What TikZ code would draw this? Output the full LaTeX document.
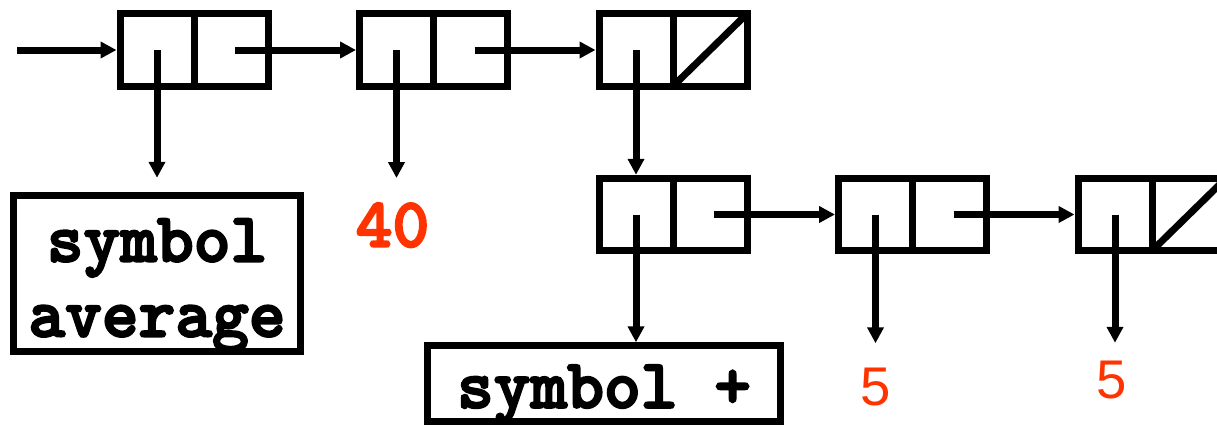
\documentclass[tikz,border=0pt]{standalone}
\usepackage[dvipsnames]{xcolor}
\usepackage{fontspec}
\usepackage{tikz}
\usetikzlibrary{arrows.meta,%
                positioning}
\newfontfamily\numsans{Liberation Sans}
\newfontfamily\courbold[FakeBold=3]{lmmonolt10-bold.otf}
\definecolor{numred}{RGB}{255,51,0}
\newcommand\symfont{\courbold\fontsize{70}{75}\selectfont}

\begin{document}
\begin{tikzpicture}
  \tikzset{CellStyle/.style = {shape          = rectangle,
                               draw,
                               line width     = 7pt,
                               minimum width  = 74pt,
                               minimum height = 72.5pt,
                               inner sep      = 0pt,
                               outer sep      = 0pt}}
  \useasboundingbox (0,0) rectangle (1217pt,-426pt);
    \begin{scope}[ptr/.style={line width=7pt, -{Triangle[width=16pt,length=16pt]}}, symbox/.style={draw, line width=7pt, font=\symfont, inner sep=2pt, outer sep=0pt}, num/.style={text=numred, inner sep=0pt, outer sep=0pt}, node distance=91.5pt]
	%%% LISTE DU HAUT %%%
	\node[CellStyle](car1) at (157pt,-50pt){};
	\node[CellStyle, right=0pt of car1](cdr1){};
	\node[CellStyle, right=of cdr1](car2){};
	\node[CellStyle, right=0pt of car2](cdr2){};
	\node[CellStyle, right=of cdr2](car3){};
	\node[CellStyle, right=0pt of car3](cdr3){};
	\draw[line width=7pt](cdr3.south west) to (cdr3.north east);
	\coordinate(start) at (17pt,-50pt);
	\draw[ptr, shorten >=3.5pt](start) to (car1.west);
	\draw[ptr, shorten >=3.5pt]([xshift=4pt]cdr1.center) to (car2.west);
	\draw[ptr, shorten >=3.5pt]([xshift=4pt]cdr2.center) to (car3.west);
	%%% LISTE DU BAS %%%
	\node[CellStyle, below=92pt of car3](car4){};
	\node[CellStyle, right=0pt of car4](cdr4){};
	\node[CellStyle, right=of cdr4](car5){};
	\node[CellStyle, right=0pt of car5](cdr5){};
	\node[CellStyle, right=of cdr5](car6){};
	\node[CellStyle, right=0pt of car6](cdr6){};
	\draw[line width=7pt](cdr6.south west) to (cdr6.north east);
	\draw[ptr, shorten >=3.5pt](car3.center) to (car4.north);
	\draw[ptr, shorten >=3.5pt]([xshift=4pt]cdr4.center) to (car5.west);
	\draw[ptr, shorten >=3.5pt]([xshift=4pt]cdr5.center) to (car6.west);
	%% VALEURS
	\node[symbox, below=109.5pt of car1, align=center, minimum width=287pt, minimum height=155.5pt, text height=130pt, text depth=4pt](avg){symbol\\average};
	\node[num, font=\symfont, below=116.75pt of car2, xshift=-4pt](forty){40};
	\node[symbox, below=95pt of car4, xshift=-32pt, minimum width=353.5pt, minimum height=76pt, text height=60pt, text depth=12pt](plus){symbol +};
	\node[num, font=\numsans\fontsize{54.5}{60}\selectfont, below=117.5pt of car5](fiveA){5};
	\node[num, font=\numsans\fontsize{54.5}{60}\selectfont, below=110pt of car6, xshift=-3pt](fiveB){5};
	\draw[ptr, shorten >=18pt](car1.center) to (car1.center |- avg.north);
	\draw[ptr, shorten >=25pt](car2.center) to (car2.center |- forty.north);
	\draw[ptr, shorten >=3.5pt](car4.center) to (car4.center |- plus.north);
	\draw[ptr, shorten >=25pt](car5.center) to (car5.center |- fiveA.north);
	\draw[ptr, shorten >=18pt](car6.center) to (car6.center |- fiveB.north);
  \end{scope}
\end{tikzpicture}
\end{document}
